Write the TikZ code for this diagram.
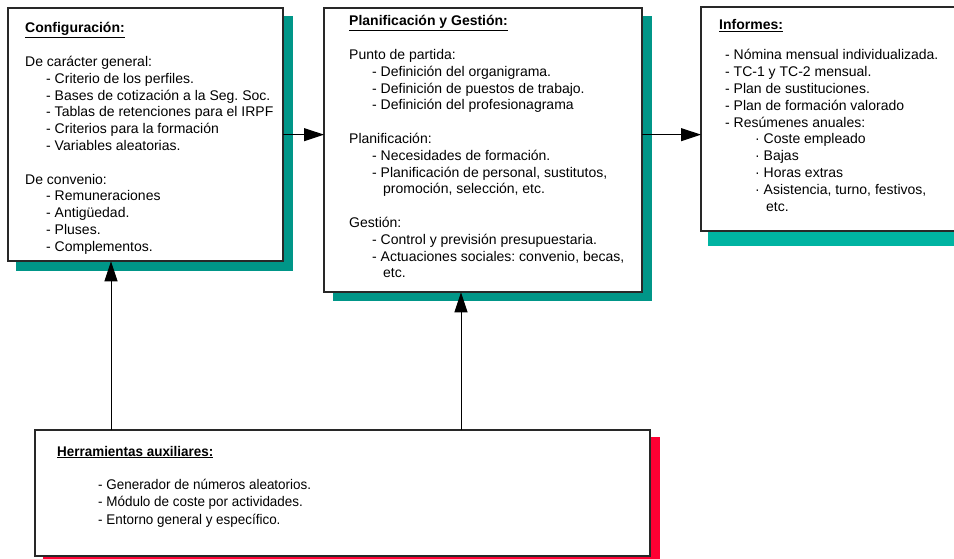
\documentclass[tikz,border=0pt]{standalone}
\usepackage{fontspec}
\setmainfont{Liberation Sans}
\newfontfamily\condfont{Liberation Sans}[FakeStretch=0.96]
\usetikzlibrary{arrows.meta,calc}
\definecolor{shadeteal}{RGB}{0,150,136}
\definecolor{shadetealb}{RGB}{0,180,162}
\definecolor{shadered}{RGB}{255,0,51}
\definecolor{framegray}{RGB}{40,40,40}
\frenchspacing
\newcommand{\hd}[1]{\textbf{\underline{#1}}}
\newcommand{\ind}[1]{\hspace*{#1pt}}
\newcommand{\lines}[1]{\parbox[t]{320pt}{\raggedright\frenchspacing #1}}
\begin{document}
\begin{tikzpicture}[x=1pt,y=-1pt,
  panel/.style={draw=framegray, line width=1.3pt, fill=white, inner sep=0pt,
    anchor=north west},
  txt/.style={anchor=base west, inner sep=0pt,
    font=\fontsize{14}{16.8}\selectfont},
  flow/.style={-{Triangle[length=20pt,width=13pt]}, line width=1pt, black}]
\useasboundingbox (0,0) rectangle (954,559);
\clip (0,0) rectangle (954,559);

% panels
\node[panel, minimum width=274pt, minimum height=252pt] (cfg) at (8,8) {};
\node[panel, minimum width=317pt, minimum height=283pt] (plan) at (324,8) {};
\node[panel, minimum width=270pt, minimum height=223pt] (rep) at (701,7) {};
\node[panel, minimum width=614pt, minimum height=125pt] (tools) at (35,430) {};

% drop shadows on the right and lower sides of the panels
\fill[shadeteal] ($(cfg.north east)+(0,8)$) rectangle ($(cfg.south east)+(10,10)$);
\fill[shadeteal] ($(cfg.south west)+(8,0)$) rectangle ($(cfg.south east)+(10,10)$);
\fill[shadeteal] ($(plan.north east)+(0,8)$) rectangle ($(plan.south east)+(10,9)$);
\fill[shadeteal] ($(plan.south west)+(9,0)$) rectangle ($(plan.south east)+(10,9)$);
\fill[shadetealb] ($(rep.south west)+(7,0)$) rectangle ($(rep.south east)+(10,15)$);
\fill[shadered] ($(tools.north east)+(0,7)$) rectangle ($(tools.south east)+(10,10)$);
\fill[shadered] ($(tools.south west)+(8,0)$) rectangle ($(tools.south east)+(10,10)$);
\draw[framegray, line width=1.3pt] (cfg.north west) rectangle (cfg.south east);
\draw[framegray, line width=1.3pt] (plan.north west) rectangle (plan.south east);
\draw[framegray, line width=1.3pt] (rep.north west) rectangle (rep.south east);
\draw[framegray, line width=1.3pt] (tools.north west) rectangle (tools.south east);

% texts
\node[txt] (cfgtext) at (25,33) {\lines{%
\hd{Configuración:}\\
\mbox{}\\
De carácter general:\\
\ind{21}- Criterio de los perfiles.\\
\ind{21}- Bases de cotización a la Seg. Soc.\\
\ind{21}- Tablas de retenciones para el IRPF\\
\ind{21}- Criterios para la formación\\
\ind{21}- Variables aleatorias.\\
\mbox{}\\
De convenio:\\
\ind{21}- Remuneraciones\\
\ind{21}- Antigüedad.\\
\ind{21}- Pluses.\\
\ind{21}- Complementos.}};

\node[txt] (plantext) at (349,26) {\lines{%
\hd{Planificación y Gestión:}\\
\mbox{}\\
Punto de partida:\\
\ind{23}- Definición del organigrama.\\
\ind{23}- Definición de puestos de trabajo.\\
\ind{23}- Definición del profesionagrama\\
\mbox{}\\
Planificación:\\
\ind{23}- Necesidades de formación.\\
\ind{23}- Planificación de personal, sustitutos,\\
\ind{34}promoción, selección, etc.\\
\mbox{}\\
Gestión:\\
\ind{23}- Control y previsión presupuestaria.\\
\ind{23}- Actuaciones sociales: convenio, becas,\\
\ind{34}etc.}};

\node[txt] (reptitle) at (719,30) {\hd{Informes:}};
\node[txt] (reptext) at (725,60) {\lines{%
- Nómina mensual individualizada.\\
- TC-1 y TC-2 mensual.\\
- Plan de sustituciones.\\
- Plan de formación valorado\\
- Resúmenes anuales:\\
\ind{30}· Coste empleado\\
\ind{30}· Bajas\\
\ind{30}· Horas extras\\
\ind{30}· Asistencia, turno, festivos,\\
\ind{41}etc.}};

\node[txt, font=\condfont\fontsize{14}{17.5}\selectfont] (toolstitle) at (57,456)
  {\hd{Herramientas auxiliares:}};
\node[txt, font=\condfont\fontsize{14}{17.5}\selectfont] (toolstext) at (98,489) {\lines{%
- Generador de números aleatorios.\\
- Módulo de coste por actividades.\\
- Entorno general y específico.}};

% connectors
\coordinate (upA) at (111,430);
\coordinate (upB) at (461,430);
\draw[flow] (cfg.east) -- (cfg.east -| plan.west);
\draw[flow] (plan.east |- cfg.east) -- (cfg.east -| rep.west);
\draw[flow] (upA) -- (upA |- cfg.south);
\draw[flow] (upB) -- (upB |- plan.south);
\end{tikzpicture}
\end{document}
